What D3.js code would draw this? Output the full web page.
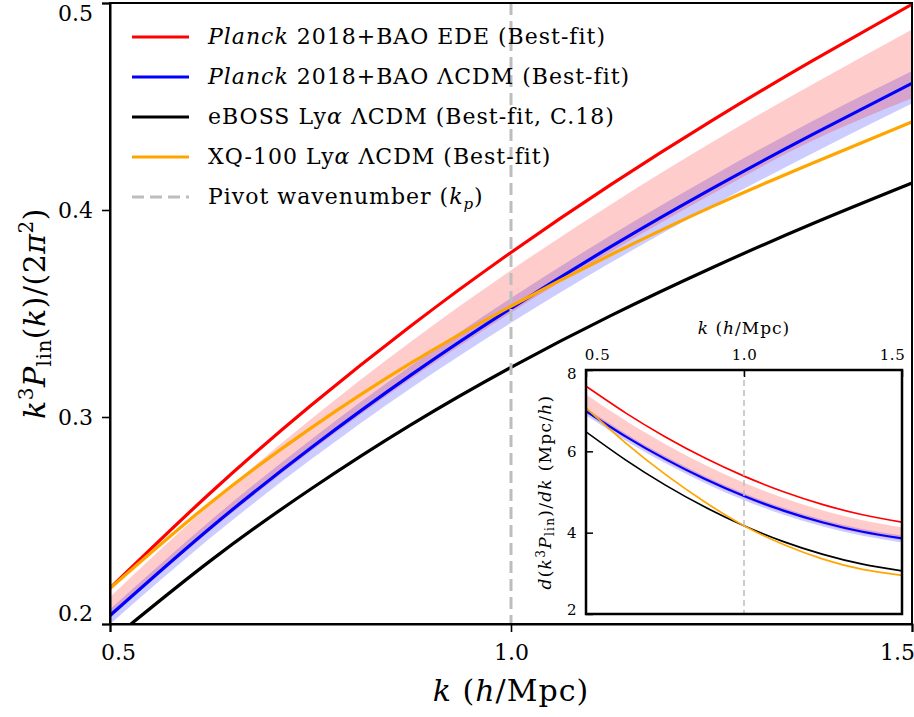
<!DOCTYPE html>
<html>
<head>
<meta charset="utf-8">
<script src="https://cdn.jsdelivr.net/npm/d3@7"></script>
<style>
  body { margin: 0; background: #fff; }
  svg { display: block; }
  text { font-family: "DejaVu Serif", serif; fill: #000; }
</style>
</head>
<body>
<script>
// wavenumbers the curves are sampled at (h/Mpc)
var kGrid = [0.5, 0.625, 0.75, 0.875, 1.0, 1.125, 1.25, 1.375, 1.5];

// k^3 P_lin(k) / (2 pi^2), best fits
var edeBest   = [0.2173, 0.2633, 0.3054, 0.3440, 0.3795, 0.4124, 0.4431, 0.4719, 0.4994];
var lcdmBest  = [0.2041, 0.2464, 0.2849, 0.3202, 0.3525, 0.3824, 0.4102, 0.4363, 0.4612];
var ebossBest = [0.1917, 0.2305, 0.2651, 0.2962, 0.3240, 0.3491, 0.3720, 0.3932, 0.4130];
var xq100Best = [0.2172, 0.2585, 0.2945, 0.3260, 0.3535, 0.3785, 0.4015, 0.4225, 0.4426];

// posterior bands
var edeBandLo  = [0.2030, 0.2450, 0.2833, 0.3183, 0.3504, 0.3800, 0.4076, 0.4333, 0.4540];
var edeBandHi  = [0.2131, 0.2579, 0.2988, 0.3364, 0.3709, 0.4028, 0.4326, 0.4605, 0.4872];
var lcdmBandLo = [0.1999, 0.2415, 0.2793, 0.3139, 0.3455, 0.3747, 0.4018, 0.4272, 0.4514];
var lcdmBandHi = [0.2071, 0.2499, 0.2889, 0.3247, 0.3575, 0.3879, 0.4162, 0.4428, 0.4672];

// inset: d(k^3 P_lin)/dk  (Mpc/h)
var dEde   = [7.60, 6.946, 6.36, 5.841, 5.39, 5.006, 4.69, 4.441, 4.26];
var dLcdm  = [6.99, 6.369, 5.814, 5.324, 4.90, 4.542, 4.249, 4.022, 3.86];
var dEboss = [6.48, 5.79, 5.175, 4.635, 4.17, 3.78, 3.465, 3.225, 3.06];
var dXq100 = [7.07, 6.21, 5.44, 4.76, 4.17, 3.708, 3.35, 3.098, 2.95];
var dEdeLo  = [6.95, 6.33, 5.77, 5.28, 4.86, 4.50, 4.21, 3.98, 3.82];
var dEdeHi  = [7.399, 6.756, 6.18, 5.67, 5.228, 4.853, 4.544, 4.303, 4.128];
var dLcdmLo = [6.89, 6.269, 5.714, 5.224, 4.80, 4.442, 4.149, 3.922, 3.76];
var dLcdmHi = [7.06, 6.439, 5.884, 5.394, 4.97, 4.612, 4.319, 4.092, 3.93];

var kPivot = 1.0;
var kTicks = [0.5, 1.0, 1.5];
var yTicks = [0.2, 0.3, 0.4, 0.5];
var insetYTicks = [2, 4, 6, 8];

var legendItems = [
  { color: 'red',    dash: null, parts: [['Planck', true], [' 2018+BAO EDE (Best-fit)', false]] },
  { color: 'blue',   dash: null, parts: [['Planck', true], [' 2018+BAO \u039BCDM (Best-fit)', false]] },
  { color: 'black',  dash: null, parts: [['eBOSS Ly', false], ['\u03B1', true], [' \u039BCDM (Best-fit, C.18)', false]] },
  { color: 'orange', dash: null, parts: [['XQ-100 Ly', false], ['\u03B1', true], [' \u039BCDM (Best-fit)', false]] },
  { color: '#bdbdbd', dash: '12,6', parts: [['Pivot wavenumber (', false], ['k', true], ['p', true, 'sub'], [')', false, 'up']] }
];

var w = 914, h = 717;

var svg = d3.select('body')
  .append('svg')
  .attr('width', w)
  .attr('height', h);

function pts(ys) {
    return kGrid.map(function(k, i) { return [k, ys[i]]; });
}
function bandPts(lo, hi) {
    return kGrid.map(function(k, i) { return [k, lo[i], hi[i]]; });
}

// ---------- main panel ----------
var x = d3.scaleLinear().domain([0.5, 1.5]).range([110, 912]);
var y = d3.scaleLinear().domain([0.2, 0.5]).range([624, 3]);

svg.append('clipPath').attr('id', 'clipMain')
  .append('rect')
  .attr('x', x(0.5)).attr('y', y(0.5))
  .attr('width', x(1.5) - x(0.5)).attr('height', y(0.2) - y(0.5));

var main = svg.append('g').attr('clip-path', 'url(#clipMain)');

var line = d3.line()
  .x(function(d) { return x(d[0]); })
  .y(function(d) { return y(d[1]); })
  .curve(d3.curveNatural);
var area = d3.area()
  .x(function(d) { return x(d[0]); })
  .y0(function(d) { return y(d[1]); })
  .y1(function(d) { return y(d[2]); })
  .curve(d3.curveNatural);

main.append('path').attr('d', area(bandPts(lcdmBandLo, lcdmBandHi)))
  .attr('fill', 'blue').attr('fill-opacity', 0.2);
main.append('path').attr('d', area(bandPts(edeBandLo, edeBandHi)))
  .attr('fill', 'red').attr('fill-opacity', 0.2);

[[edeBest, 'red'], [lcdmBest, 'blue'], [ebossBest, 'black'], [xq100Best, 'orange']].forEach(function(s) {
    main.append('path')
      .attr('d', line(pts(s[0])))
      .attr('fill', 'none')
      .attr('stroke', s[1])
      .attr('stroke-width', 3.2);
});

main.append('line')
  .attr('x1', x(kPivot)).attr('x2', x(kPivot))
  .attr('y1', y(0.5)).attr('y2', y(0.2))
  .attr('stroke', '#bdbdbd')
  .attr('stroke-width', 3)
  .attr('stroke-dasharray', '12,6');

// frame
svg.append('rect')
  .attr('x', x(0.5)).attr('y', y(0.5))
  .attr('width', x(1.5) - x(0.5)).attr('height', y(0.2) - y(0.5))
  .attr('fill', 'none').attr('stroke', '#000').attr('stroke-width', 2);

var xAxis = svg.append('g')
  .attr('transform', 'translate(0,' + y(0.2) + ')')
  .call(d3.axisBottom(x).tickValues(kTicks).tickSize(8).tickPadding(12).tickFormat(d3.format('.1f')));
var yAxis = svg.append('g')
  .attr('transform', 'translate(' + x(0.5) + ',0)')
  .call(d3.axisLeft(y).tickValues(yTicks).tickSize(8).tickPadding(9).tickFormat(d3.format('.1f')));

[xAxis, yAxis].forEach(function(a) {
    a.select('.domain').attr('stroke-width', 2);
    a.selectAll('.tick line').attr('stroke-width', 1.6);
    a.selectAll('text').style('font-size', '22px').attr('fill', '#000');
});
// edge labels pulled inside the picture, as in the source figure
xAxis.selectAll('.tick text').filter(function(d) { return d === 0.5; }).attr('dx', 8);
xAxis.selectAll('.tick text').filter(function(d) { return d === 1.5; }).attr('dx', -15);
yAxis.selectAll('.tick text').filter(function(d) { return d === 0.5; }).attr('dy', '0.8em');
yAxis.selectAll('.tick text').filter(function(d) { return d === 0.2; }).attr('dy', '-0.15em');

// axis titles
var xt = svg.append('text')
  .attr('x', x(1.0)).attr('y', 701)
  .attr('text-anchor', 'middle')
  .style('font-size', '30px')
  .style('letter-spacing', '1px');
xt.append('tspan').style('font-style', 'italic').text('k');
xt.append('tspan').text(' (');
xt.append('tspan').style('font-style', 'italic').text('h');
xt.append('tspan').text('/Mpc)');

var yt = svg.append('text')
  .attr('transform', 'translate(45,' + ((y(0.2) + y(0.5)) / 2) + ') rotate(-90)')
  .attr('text-anchor', 'middle')
  .style('font-size', '30px')
  .style('letter-spacing', '0.5px');
yt.append('tspan').style('font-style', 'italic').text('k');
yt.append('tspan').attr('dy', -12).style('font-size', '20px').text('3');
yt.append('tspan').attr('dy', 12).style('font-style', 'italic').text('P');
yt.append('tspan').attr('dy', 6).style('font-size', '20px').text('lin');
yt.append('tspan').attr('dy', -6).text('(');
yt.append('tspan').style('font-style', 'italic').text('k');
yt.append('tspan').text(')/(2');
yt.append('tspan').style('font-style', 'italic').text('\u03C0');
yt.append('tspan').attr('dy', -12).style('font-size', '20px').text('2');
yt.append('tspan').attr('dy', 12).text(')');

// legend
var leg = svg.append('g');
legendItems.forEach(function(it, i) {
    var row = leg.append('g').attr('transform', 'translate(0,' + (37 + i * 40) + ')');
    row.append('line')
      .attr('x1', 132).attr('x2', 189)
      .attr('stroke', it.color).attr('stroke-width', 3)
      .attr('stroke-dasharray', it.dash);
    var t = row.append('text')
      .attr('x', 208).attr('y', 7)
      .style('font-size', '22px')
      .style('letter-spacing', '1px');
    it.parts.forEach(function(p) {
        var s = t.append('tspan').text(p[0]);
        if (p[1]) s.style('font-style', 'italic');
        if (p[2] === 'sub') s.attr('dy', 5).style('font-size', '15px');
        if (p[2] === 'up') s.attr('dy', -5);
    });
});

// ---------- inset ----------
var xi = d3.scaleLinear().domain([0.5, 1.5]).range([586, 902]);
var yi = d3.scaleLinear().domain([2, 8]).range([614, 370]);

svg.append('rect')
  .attr('x', xi(0.5)).attr('y', yi(8))
  .attr('width', xi(1.5) - xi(0.5)).attr('height', yi(2) - yi(8))
  .attr('fill', '#fff');

svg.append('clipPath').attr('id', 'clipInset')
  .append('rect')
  .attr('x', xi(0.5)).attr('y', yi(8))
  .attr('width', xi(1.5) - xi(0.5)).attr('height', yi(2) - yi(8));

var ins = svg.append('g').attr('clip-path', 'url(#clipInset)');

var lineI = d3.line()
  .x(function(d) { return xi(d[0]); })
  .y(function(d) { return yi(d[1]); })
  .curve(d3.curveNatural);
var areaI = d3.area()
  .x(function(d) { return xi(d[0]); })
  .y0(function(d) { return yi(d[1]); })
  .y1(function(d) { return yi(d[2]); })
  .curve(d3.curveNatural);

ins.append('path').attr('d', areaI(bandPts(dLcdmLo, dLcdmHi)))
  .attr('fill', 'blue').attr('fill-opacity', 0.2);
ins.append('path').attr('d', areaI(bandPts(dEdeLo, dEdeHi)))
  .attr('fill', 'red').attr('fill-opacity', 0.2);

[[dEde, 'red'], [dLcdm, 'blue'], [dEboss, 'black'], [dXq100, 'orange']].forEach(function(s) {
    ins.append('path')
      .attr('d', lineI(pts(s[0])))
      .attr('fill', 'none')
      .attr('stroke', s[1])
      .attr('stroke-width', s[1] === 'blue' ? 2.2 : 1.7);
});

ins.append('line')
  .attr('x1', xi(kPivot)).attr('x2', xi(kPivot))
  .attr('y1', yi(8)).attr('y2', yi(2))
  .attr('stroke', '#bdbdbd')
  .attr('stroke-width', 1.5)
  .attr('stroke-dasharray', '6,4');

svg.append('rect')
  .attr('x', xi(0.5)).attr('y', yi(8))
  .attr('width', xi(1.5) - xi(0.5)).attr('height', yi(2) - yi(8))
  .attr('fill', 'none').attr('stroke', '#000').attr('stroke-width', 2.5);

var xiAxis = svg.append('g')
  .attr('transform', 'translate(0,' + yi(8) + ')')
  .call(d3.axisTop(xi).tickValues(kTicks).tickSize(-7).tickPadding(10).tickFormat(d3.format('.1f')));
var yiAxis = svg.append('g')
  .attr('transform', 'translate(' + xi(0.5) + ',0)')
  .call(d3.axisLeft(yi).tickValues(insetYTicks).tickSize(-7).tickPadding(9).tickFormat(d3.format('d')));

[xiAxis, yiAxis].forEach(function(a) {
    a.select('.domain').remove();
    a.selectAll('.tick line').attr('stroke', '#000').attr('stroke-width', 1.5);
    a.selectAll('text').style('font-size', '15px').style('letter-spacing', '0.5px').attr('fill', '#000');
});
xiAxis.selectAll('.tick text').filter(function(d) { return d === 0.5; }).attr('dx', 11);
xiAxis.selectAll('.tick text').filter(function(d) { return d === 1.5; }).attr('dx', -10);
yiAxis.selectAll('.tick text').filter(function(d) { return d === 8; }).attr('dy', '0.55em');
yiAxis.selectAll('.tick text').filter(function(d) { return d === 2; }).attr('dy', '0em');

var xit = svg.append('text')
  .attr('x', xi(1.0)).attr('y', 334)
  .attr('text-anchor', 'middle')
  .style('font-size', '17px')
  .style('letter-spacing', '1px');
xit.append('tspan').style('font-style', 'italic').text('k');
xit.append('tspan').text(' (');
xit.append('tspan').style('font-style', 'italic').text('h');
xit.append('tspan').text('/Mpc)');

var yit = svg.append('text')
  .attr('transform', 'translate(551,' + ((yi(2) + yi(8)) / 2) + ') rotate(-90)')
  .attr('text-anchor', 'middle')
  .style('font-size', '17px')
  .style('letter-spacing', '1.3px');
yit.append('tspan').style('font-style', 'italic').text('d');
yit.append('tspan').text('(');
yit.append('tspan').style('font-style', 'italic').text('k');
yit.append('tspan').attr('dy', -6).style('font-size', '12px').text('3');
yit.append('tspan').attr('dy', 6).style('font-style', 'italic').text('P');
yit.append('tspan').attr('dy', 3).style('font-size', '12px').text('lin');
yit.append('tspan').attr('dy', -3).text(')/');
yit.append('tspan').style('font-style', 'italic').text('dk');
yit.append('tspan').text(' (Mpc/');
yit.append('tspan').style('font-style', 'italic').text('h');
yit.append('tspan').text(')');
</script>
</body>
</html>
